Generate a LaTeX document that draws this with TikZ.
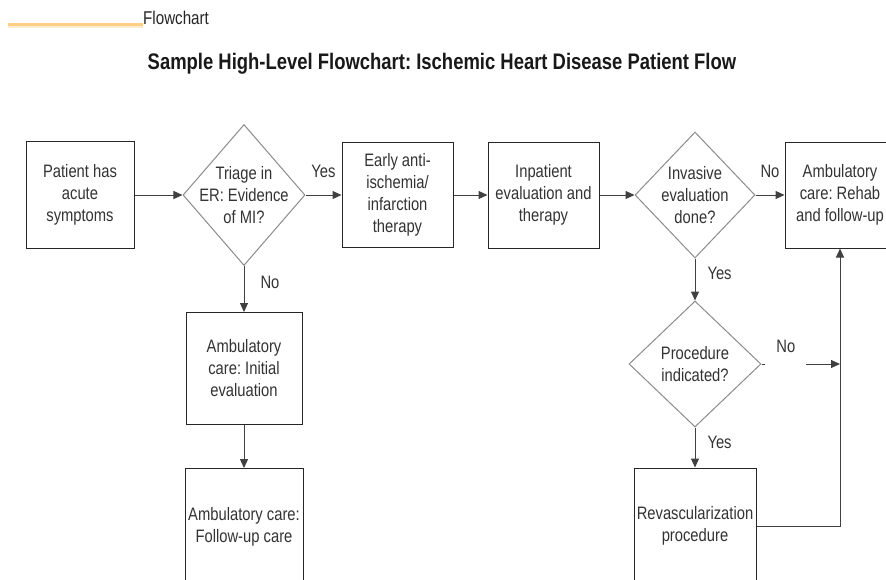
\documentclass[tikz,border=0pt]{standalone}
\usepackage{fontspec}
\setmainfont[FakeStretch=0.82]{Liberation Sans}
\usetikzlibrary{positioning,arrows.meta,shapes.geometric}

\definecolor{rulecolor}{RGB}{255,207,134}
\definecolor{rulepale}{RGB}{255,236,210}

\frenchspacing

\begin{document}
\begin{tikzpicture}[
    x=1pt, y=-1pt,
    font=\fontsize{18}{22}\selectfont,
    box/.style={
        draw=black!85,
        line width=1pt,
        align=center,
        text=black!80,
        inner sep=2pt
    },
    decision/.style={
        diamond,
        draw=gray!90,
        line width=1pt,
        align=center,
        text=black!80,
        inner sep=-15pt,
        minimum width=122pt,
        minimum height=141pt
    },
    arrow/.style={-{Triangle[length=9pt, width=8pt]}, line width=1pt, draw=black!75},
    flowlabel/.style={text=black!80, inner sep=2pt, text height=13pt, text depth=4pt}
]

\useasboundingbox (0,0) rectangle (886,579);
\clip (0,0) rectangle (886,579);
\fill[white] (0,0) rectangle (886,579);

% header and title
\draw[rulepale, line width=2pt] (8,26.5) -- (143,26.5);
\draw[rulecolor, line width=3pt] (8,24) -- (143,24);
\node[anchor=west, inner sep=0pt, font=\fontsize{18.5}{20}\selectfont, text=black!85] (header) at (143,18) {Flowchart};
\node[font=\fontsize{22.5}{26}\selectfont\bfseries, text=black!90] (title) at (442,64) {Sample High-Level Flowchart: Ischemic Heart Disease Patient Flow};

% main row
\node[decision] (triage) at (244,195) {Triage in\\ER: Evidence\\of MI?};
\node[box, minimum width=108pt, minimum height=107pt, left=48pt of triage] (patient) {Patient has\\acute\\symptoms};
\node[box, minimum width=111pt, minimum height=105pt, right=36pt of triage] (early) {Early anti-\\ischemia/\\infarction\\therapy};
\node[box, minimum width=111pt, minimum height=106pt, right=34pt of early] (inpatient) {Inpatient\\evaluation and\\therapy};
\node[decision, minimum width=120pt, minimum height=126pt, right=35pt of inpatient] (invasive) {Invasive\\evaluation\\done?};
\node[box, minimum width=110pt, minimum height=106pt, right=29pt of invasive] (rehab) {Ambulatory\\care: Rehab\\and follow-up};

% left branch
\node[box, minimum width=116pt, minimum height=112pt, below=46pt of triage] (initial) {Ambulatory\\care: Initial\\evaluation};
\node[box, minimum width=118pt, minimum height=116pt, below=43pt of initial] (followup) {Ambulatory care:\\Follow-up care};

% right branch
\node[decision, minimum width=132pt, minimum height=126pt, below=42pt of invasive] (procedure) {Procedure\\indicated?};
\node[box, minimum width=122pt, minimum height=116pt, below=40pt of procedure] (revasc) {Revascularization\\procedure};

\draw[arrow] (patient) -- (triage);
\draw[arrow] (triage) -- node[flowlabel, above=11pt] {Yes} (early);
\draw[arrow] (early) -- (inpatient);
\draw[arrow] (inpatient) -- (invasive);
\draw[arrow] (invasive) -- node[flowlabel, above=11pt] {No} (rehab);

\draw[arrow] (triage) -- node[flowlabel, pos=0.4, right=14pt] {No} (initial);
\draw[arrow] (initial) -- (followup);

\draw[arrow] (invasive) -- node[flowlabel, pos=0.4, right=10pt] {Yes} (procedure);
\draw[arrow] (procedure) -- node[flowlabel, pos=0.4, right=10pt] {Yes} (revasc);
\draw[arrow] (procedure.east) -- node[pos=0.31, fill=white, inner sep=0pt, minimum width=41pt, minimum height=6pt] {}
    node[flowlabel, pos=0.31, above=5pt] {No} (procedure.east -| rehab.south);
\draw[arrow] (revasc.east) -| (rehab.south);

\end{tikzpicture}
\end{document}
